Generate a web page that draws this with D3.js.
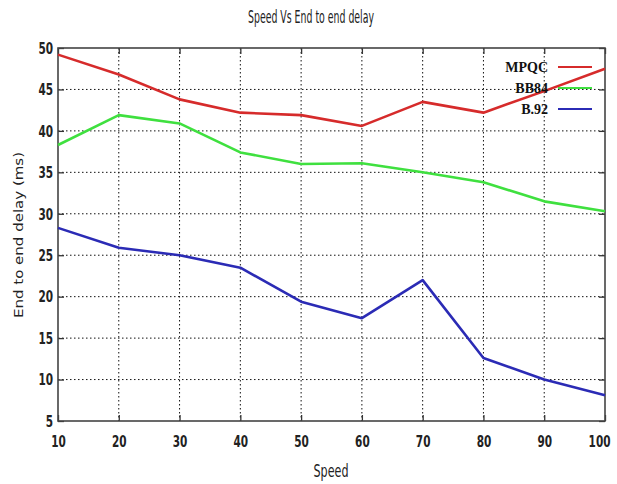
<!DOCTYPE html>
<html><head><meta charset="utf-8">
<script src="https://cdn.jsdelivr.net/npm/d3@7"></script>
<style>
body{margin:0;background:#fff;}
svg{display:block;}
</style></head>
<body>
<svg id="chart" width="617" height="484"></svg>
<script>
const speeds = [10,20,30,40,50,60,70,80,90,100];
const mpqc = [49.2,46.8,43.8,42.2,41.9,40.6,43.5,42.2,44.8,47.5];
const bb84 = [38.3,41.9,40.9,37.4,36.0,36.1,35.0,33.8,31.5,30.3];
const b92  = [28.3,25.9,25.0,23.5,19.4,17.4,22.0,12.6,10.0,8.1];
const seriesNames = ["MPQC","BB84","B.92"];
const seriesColors = ["#d62b2b","#3fe03f","#2b2bb5"];
const xTicks = [10,20,30,40,50,60,70,80,90,100];
const yTicks = [5,10,15,20,25,30,35,40,45,50];

const svg = d3.select("#chart");
const L=58, R=605, T=48, B=421;
const x = d3.scaleLinear().domain([10,100]).range([L,R]);
const y = d3.scaleLinear().domain([5,50]).range([B,T]);
const tickFont = "'DejaVu Sans Condensed','DejaVu Sans',sans-serif";

// grid
const grid = svg.append("g").attr("stroke","#111").attr("stroke-width",1).attr("stroke-dasharray","1.5,2.5");
grid.selectAll("line.v").data(xTicks.slice(1,-1)).enter().append("line")
  .attr("x1",d=>x(d)).attr("x2",d=>x(d)).attr("y1",T).attr("y2",B);
grid.selectAll("line.h").data(yTicks.slice(1,-1)).enter().append("line")
  .attr("y1",d=>y(d)).attr("y2",d=>y(d)).attr("x1",L).attr("x2",R);

// axes
const axB = svg.append("g").attr("transform",`translate(0,${B})`)
  .call(d3.axisBottom(x).tickValues(xTicks).tickSizeInner(-6).tickSizeOuter(0).tickPadding(15));
const axT = svg.append("g").attr("transform",`translate(0,${T})`)
  .call(d3.axisTop(x).tickValues(xTicks).tickSizeInner(-6).tickSizeOuter(0).tickFormat(""));
const axL = svg.append("g").attr("transform",`translate(${L},0)`)
  .call(d3.axisLeft(y).tickValues(yTicks).tickSizeInner(-6).tickSizeOuter(0).tickPadding(5));
const axR = svg.append("g").attr("transform",`translate(${R},0)`)
  .call(d3.axisRight(y).tickValues(yTicks).tickSizeInner(-6).tickSizeOuter(0).tickFormat(""));
[axB,axT,axL,axR].forEach(a=>{
  a.select(".domain").remove();
  a.selectAll(".tick line").attr("stroke","#333").attr("stroke-width",1.3);
  a.selectAll("text").attr("font-family",tickFont).attr("font-size",15).attr("font-weight","bold").attr("fill","#222")
    .attr("textLength",function(){return this.textContent.length*7.3;})
    .attr("lengthAdjust","spacingAndGlyphs");
});
axL.selectAll("text").attr("dy","0.35em");
axB.selectAll(".tick").filter(d=>d===100).select("text").attr("text-anchor","end").attr("dx",5);

// frame
svg.append("rect").attr("x",L).attr("y",T).attr("width",R-L).attr("height",B-T)
  .attr("fill","none").attr("stroke","#444").attr("stroke-width",1.6);

// lines
const data = [mpqc,bb84,b92];
const line = d3.line().x((d,i)=>x(speeds[i])).y(d=>y(d));
data.forEach((s,k)=>{
  svg.append("path").datum(s).attr("d",line).attr("fill","none")
    .attr("stroke",seriesColors[k]).attr("stroke-width",2.6).attr("stroke-linejoin","round");
});

// legend
const lg = svg.append("g");
seriesNames.forEach((n,k)=>{
  const yy = 67 + k*21;
  lg.append("text").attr("x",548).attr("y",yy).attr("dy","0.35em").attr("text-anchor","end")
    .attr("font-family","'Liberation Serif','Times New Roman',serif").attr("font-weight","bold")
    .attr("font-size",14).attr("fill","#111").text(n);
  lg.append("line").attr("x1",558).attr("x2",592).attr("y1",yy).attr("y2",yy)
    .attr("stroke",seriesColors[k]).attr("stroke-width",2);
});

// title & labels
svg.append("text").attr("x",311).attr("y",23).attr("text-anchor","middle")
  .attr("font-family",tickFont).attr("font-size",17).attr("fill","#222")
  .attr("textLength",126).attr("lengthAdjust","spacingAndGlyphs").text("Speed Vs End to end delay");
svg.append("text").attr("x",331).attr("y",477).attr("text-anchor","middle")
  .attr("font-family",tickFont).attr("font-size",17).attr("fill","#222")
  .attr("textLength",35).attr("lengthAdjust","spacingAndGlyphs").text("Speed");
svg.append("text").attr("transform","translate(23,235) rotate(-90)").attr("text-anchor","middle")
  .attr("font-family","'DejaVu Sans',Verdana,sans-serif").attr("font-size",13).attr("fill","#222")
  .attr("textLength",166).attr("lengthAdjust","spacingAndGlyphs")
  .text("End to end delay (ms)");
</script>
</body></html>
